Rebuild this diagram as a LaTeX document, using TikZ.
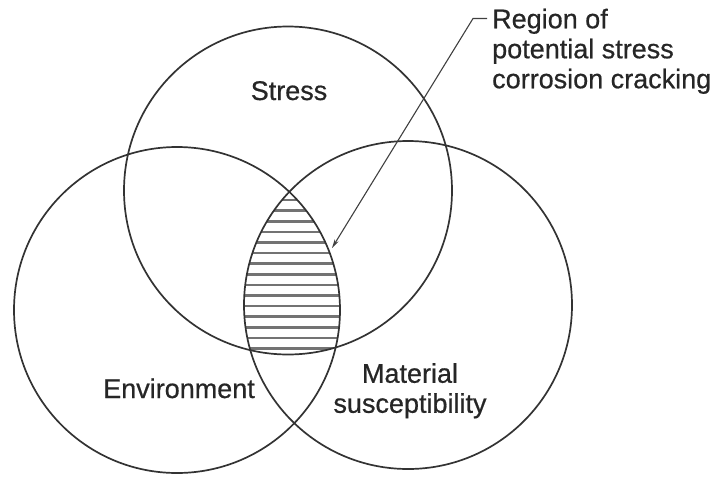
\documentclass[tikz,border=0pt]{standalone}
\usepackage{fontspec}
\setmainfont{Liberation Sans}[FakeBold=0.6]
\usetikzlibrary{arrows.meta}
\begin{document}
\begin{tikzpicture}[x=1pt,y=-1pt,
  ring/.style={draw=black!80, line width=1.7pt},
  hatchline/.style={draw=black!55, line width=2.6pt},
  lbl/.style={font=\fontsize{27}{30}\selectfont, text=black!85, inner sep=0pt},
  leader/.style={draw=black!75, line width=1.1pt, -{Stealth[length=9pt,width=4.5pt]}}]
\useasboundingbox (0,0) rectangle (719,477);

% circle centres
\coordinate (cS) at (288,190.5);
\coordinate (cE) at (177,310);
\coordinate (cM) at (408,305);

% hatched common region of the three circles
\begin{scope}
  \clip (cS) circle[radius=164pt];
  \clip (cE) circle[radius=163pt];
  \clip (cM) circle[radius=164pt];
  \foreach \k in {0,...,14}
    \draw[hatchline] (230,{200+10.6*\k}) -- (350,{200+10.6*\k});
\end{scope}

% the three circles
\draw[ring] (cS) circle[radius=164pt];
\draw[ring] (cE) circle[radius=163pt];
\draw[ring] (cM) circle[radius=164pt];

% labels
\node[lbl, anchor=base] (stress) at (289,100) {Stress};
\node[lbl, anchor=base] (env) at (179,398) {Environment};
\node[lbl, anchor=north, align=center] (mat) at (410,363) {Material\\susceptibility};
\node[lbl, anchor=north west, align=left] (note) at (492,8.5)
  {Region of\\potential stress\\corrosion cracking};

% leader to the hatched region
\coordinate (lead) at (487,18.5);
\coordinate (bend) at (473,18.5);
\coordinate (tip) at (332,248);
\draw[leader] (lead) -- (bend) -- (tip);
\end{tikzpicture}
\end{document}
